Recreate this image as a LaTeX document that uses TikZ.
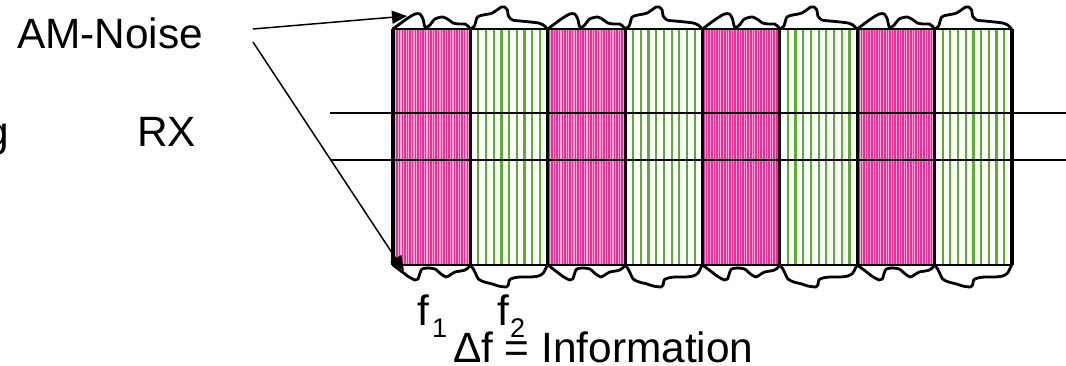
\documentclass[tikz,border=0pt]{standalone}
\usepackage{fontspec}
\setmainfont{Liberation Sans}
\usetikzlibrary{arrows.meta}
\definecolor{pinkdark}{HTML}{E4309A}
\definecolor{pinklight}{HTML}{F5A8D2}
\definecolor{grn}{HTML}{5AAD30}
\begin{document}
\begin{tikzpicture}[x=1pt,y=-1pt,
  lbl/.style={inner sep=0pt,outer sep=0pt,anchor=base west,font=\fontsize{42.4}{50}\selectfont},
  sublbl/.style={inner sep=0pt,outer sep=0pt,anchor=base west,font=\fontsize{27}{32}\selectfont},
  wave/.style={line width=2.8pt,line join=round,line cap=round},
  border/.style={line width=3.2pt},
  hline/.style={line width=2pt},
  arr/.style={line width=1.5pt,-{Triangle[length=15pt,width=13pt]}}]
\useasboundingbox (0,0) rectangle (1066,366);
% columns
\foreach \i in {0,...,7}{
  \pgfmathsetmacro\xl{393+77.375*\i}
  \ifodd\i
    \foreach \j in {0,...,8}{\draw[grn,line width=2.2pt] ({\xl+8+7.7*\j},29) -- ++(0,236);}
  \else
    \fill[pinklight] (\xl,29) rectangle ++(77.375,236);
    \foreach \j in {0,...,29}{\draw[pinkdark,line width=1.5pt] ({\xl+1.5+2.6*\j},29) -- ++(0,236);}
  \fi
}
% waves
\foreach \k in {0,...,3}{
  \pgfmathsetmacro\xp{393+154.75*\k}
  \pgfmathsetmacro\xg{393+154.75*\k+77.375}
  \begin{scope}[shift={(\xp,29)}]
    \draw[wave] plot[smooth,tension=0.45] coordinates {(0,0) (8,-6) (15,-11) (22,-15) (27,-15) (30,-10) (32,-2) (36,-3) (42,-10) (50,-12) (56,-9) (60,-6) (66,-5) (72,-5) (75,-3) (77,0)};
  \end{scope}
  \begin{scope}[shift={(\xg,29)}]
    \draw[wave] plot[smooth,tension=0.45] coordinates {(0,0) (4,-3) (7,-12) (13,-14) (22,-16) (31,-22) (34,-22) (37,-19) (38,-13) (42,-9) (50,-8) (60,-7) (68,-6) (73,-4) (77,0)};
  \end{scope}
  \begin{scope}[shift={(\xp,265)}]
    \draw[wave] plot[smooth,tension=0.45] coordinates {(0,0) (8,6) (16,12) (22,15) (25,14) (27,8) (29,4) (35,3) (42,4) (48,9) (53,12) (57,10) (62,7) (68,6) (72,5) (75,3) (77,0)};
  \end{scope}
  \begin{scope}[shift={(\xg,265)}]
    \draw[wave] plot[smooth,tension=0.45] coordinates {(0,0) (3,4) (5,8) (8,14) (14,17) (22,19) (28,21) (36,22) (38,20) (39,15) (43,13) (50,12) (60,12) (68,11) (73,8) (77,0)};
  \end{scope}
}
% horizontal lines
\draw[hline] (330,113) -- (1066,113);
\draw[hline] (330,160) -- (1066,160);
% borders
\draw[hline] (393,29) -- (1012,29);
\draw[hline] (393,265) -- (1012,265);
\foreach \i in {0,...,8}{\draw[border] ({393+77.375*\i},29) -- ({393+77.375*\i},265);}
% labels
\node[lbl] (am) at (17,49) {AM-Noise};
\node[lbl] (g) at (-14,147) {g};
\node[lbl] (rx) at (137,147) {RX};
\node[lbl] (f1) at (417,325) {f};
\node[sublbl] (s1) at (432,337) {1};
\node[lbl] (f2) at (497,325) {f};
\node[sublbl] (s2) at (510,337) {2};
\node[lbl] (info) at (453,362) {Δf = Information};
% arrows
\coordinate (a1s) at (253,29);
\coordinate (a1e) at (407,16);
\coordinate (a2s) at (253,42);
\coordinate (a2e) at (404,271);
\draw[arr] (a1s) -- (a1e);
\draw[arr] (a2s) -- (a2e);
\end{tikzpicture}
\end{document}
